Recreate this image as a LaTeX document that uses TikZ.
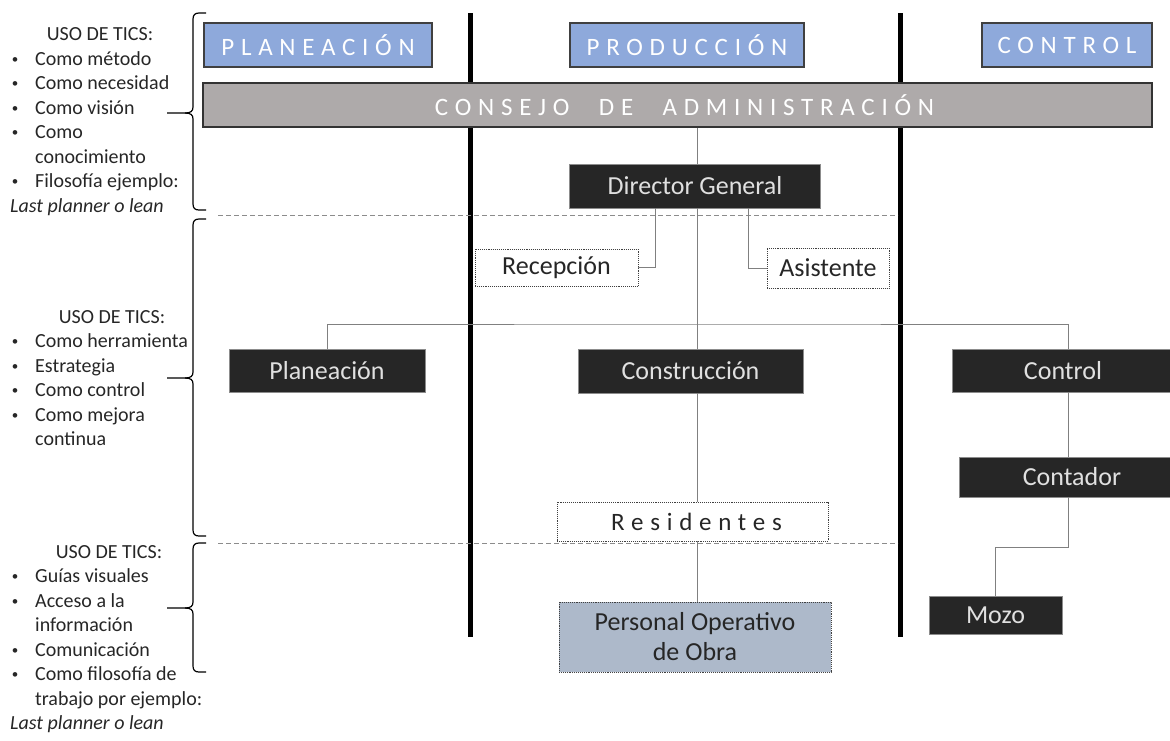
\documentclass[tikz,border=0pt]{standalone}
\usepackage{fontspec}
\setmainfont{Carlito}
\newfontfamily\spaced[LetterSpace=27]{Carlito}
\usetikzlibrary{calc}
\definecolor{hdrblue}{RGB}{142,169,219}
\definecolor{cgray}{RGB}{174,170,170}
\definecolor{dbox}{RGB}{38,38,38}
\definecolor{pbox}{RGB}{173,185,202}
\tikzset{
  hdr/.style={draw=black!75, line width=1.2pt, fill=hdrblue, text=white, font=\spaced\fontsize{25}{29}\selectfont, inner sep=0pt, minimum height=44pt},
  boardbox/.style={draw=black!80, line width=1.2pt, fill=cgray, text=white, font=\spaced\fontsize{25}{29}\selectfont, inner sep=0pt, minimum height=44pt},
  darkbox/.style={draw=black!45, line width=0.6pt, fill=dbox, text=white!88!black, font=\fontsize{26}{31}\selectfont, inner sep=0pt},
  dotbox/.style={draw=black!75, densely dotted, line width=0.9pt, fill=white, text=black!85, font=\fontsize{26}{31}\selectfont, inner sep=0pt},
  conn/.style={draw=black!50, line width=0.8pt},
  sepline/.style={draw=black!45, line width=0.8pt, dash pattern=on 5pt off 3pt},
  lane/.style={draw=black, line width=5pt},
  bracepath/.style={draw=black, line width=1.2pt},
  side/.style={font=\fontsize{20}{24}\selectfont, inner sep=0pt, anchor=base west, text=black!85},
  sidec/.style={font=\fontsize{20}{24}\selectfont, inner sep=0pt, anchor=base, text=black!85},
  bul/.style={font=\fontsize{13}{16}\selectfont, inner sep=0pt, anchor=base, text=black!85},
}
\begin{document}
\begin{tikzpicture}[x=1pt,y=-1pt]
\useasboundingbox (0,0) rectangle (1170,740);
% lanes
\draw[lane] (470,13) -- (470,637);
\draw[lane] (900,13) -- (900,637);
% separators
\draw[sepline] (218,215) -- (898,215);
\draw[sepline] (218,543) -- (898,543);
% headers
\node[hdr, minimum width=228pt] (hplan) at (318,45) {PLANEACIÓN};
\node[hdr, minimum width=234pt] (hprod) at (687,45) {PRODUCCIÓN};
\node[hdr, minimum width=170pt] (hctrl) at (1067,45) {CONTROL};
\node[boardbox, minimum width=949pt] (cons) at (677.5,105) {\hspace*{14pt}CONSEJO\hspace{17pt} DE\hspace{17pt} ADMINISTRACIÓN};
% boxes
\node[darkbox, minimum width=251pt, minimum height=44pt] (dir) at (695,186) {Director General};
\node[dotbox, minimum width=163pt, minimum height=37pt] (recep) at (556.5,267.5) {Recepción};
\node[dotbox, minimum width=122pt, minimum height=40pt] (asist) at (828,268) {Asistente};
\node[darkbox, minimum width=196pt, minimum height=43pt] (plan) at (327,370.5) {Planeación};
\node[darkbox, minimum width=225pt, minimum height=44pt] (constr) at (690.5,371) {Construcción};
\node[darkbox, minimum width=232pt, minimum height=43pt] (ctrl) at (1068,370.5) {\hspace*{-10pt}Control};
\node[darkbox, minimum width=218pt, minimum height=40pt] (cont) at (1068,477) {\hspace*{8pt}Contador};
\node[dotbox, minimum width=271pt, minimum height=39pt, font=\spaced\fontsize{25}{29}\selectfont] (resid) at (692.5,521.5) {\hspace*{8pt}Residentes};
\node[dotbox, fill=pbox, minimum width=272pt, minimum height=70pt, align=center, font=\fontsize{26}{30}\selectfont] (pers) at (695,637) {Personal Operativo\\de Obra};
\node[darkbox, minimum width=133pt, minimum height=38pt] (mozo) at (995.5,615) {Mozo};
% connectors
\coordinate (cx) at (697,0);
\coordinate (rx) at (655,0);
\coordinate (ax) at (748,0);
\coordinate (bus) at (697,324);
\coordinate (melbow) at (1068,547);
\draw[conn] (cons.south -| cx) -- (dir.north -| cx);
\draw[conn] (dir.south -| cx) -- (constr.north -| cx);
\draw[conn] (constr.south -| cx) -- (resid.north -| cx);
\draw[conn] (resid.south -| cx) -- (pers.north -| cx);
\draw[conn] (dir.south -| rx) |- (recep.east);
\draw[conn] (dir.south -| ax) |- (asist.west);
\draw[conn] (plan.north) |- (bus) -| (ctrl.north);
\draw[conn] (ctrl.south) -- (cont.north);
\draw[conn] (cont.south) -- (melbow) -| (mozo.north);
% braces
\draw[bracepath] (206,13) -- (199,13) .. controls (195,13) and (193,15) .. (193,19) -- (193,107) .. controls (193,111) and (191,113) .. (185,113) -- (167,113);
\draw[bracepath] (185,113) .. controls (191,113) and (193,115) .. (193,119) -- (193,204) .. controls (193,208) and (195,210) .. (199,210) -- (206,210);
\draw[bracepath] (206,219) -- (199,219) .. controls (195,219) and (193,221) .. (193,225) -- (193,372) .. controls (193,376) and (191,378) .. (185,378) -- (167,378);
\draw[bracepath] (185,378) .. controls (191,378) and (193,380) .. (193,384) -- (193,530) .. controls (193,534) and (195,536) .. (199,536) -- (206,536);
\draw[bracepath] (206,543) -- (199,543) .. controls (195,543) and (193,545) .. (193,549) -- (193,602) .. controls (193,606) and (191,608) .. (185,608) -- (167,608);
\draw[bracepath] (185,608) .. controls (191,608) and (193,610) .. (193,614) -- (193,666) .. controls (193,670) and (195,672) .. (199,672) -- (206,672);
% side text block 1
\node[sidec] (a0) at (100,40.5) {USO DE TICS:};
\node[bul] (a1b) at (15,63) {•}; \node[side] (a1) at (35,65) {Como método};
\node[bul] (a2b) at (15,87.5) {•}; \node[side] (a2) at (35,89.5) {Como necesidad};
\node[bul] (a3b) at (15,112) {•}; \node[side] (a3) at (35,114) {Como visión};
\node[bul] (a4b) at (15,136.5) {•}; \node[side] (a4) at (35,138.5) {Como};
\node[side] (a5) at (35,163) {conocimiento};
\node[bul] (a6b) at (15,185.5) {•}; \node[side] (a6) at (35,187.5) {Filosofía ejemplo:};
\node[side] (a7) at (10,212) {\itshape Last planner o lean};
% side text block 2
\node[sidec] (b0) at (112,323) {USO DE TICS:};
\node[bul] (b1b) at (15,345.5) {•}; \node[side] (b1) at (35,347.5) {Como herramienta};
\node[bul] (b2b) at (15,370) {•}; \node[side] (b2) at (35,372) {Estrategia};
\node[bul] (b3b) at (15,394.5) {•}; \node[side] (b3) at (35,396.5) {Como control};
\node[bul] (b4b) at (15,419) {•}; \node[side] (b4) at (35,421) {Como mejora};
\node[side] (b5) at (35,445.5) {continua};
% side text block 3
\node[sidec] (c0) at (109,558) {USO DE TICS:};
\node[bul] (c1b) at (15,580.5) {•}; \node[side] (c1) at (35,582.5) {Guías visuales};
\node[bul] (c2b) at (15,605) {•}; \node[side] (c2) at (35,607) {Acceso a la};
\node[side] (c3) at (35,631.5) {información};
\node[bul] (c4b) at (15,654) {•}; \node[side] (c4) at (35,656) {Comunicación};
\node[bul] (c5b) at (15,678.5) {•}; \node[side] (c5) at (35,680.5) {Como filosofía de};
\node[side] (c6) at (35,705) {trabajo por ejemplo:};
\node[side] (c7) at (10,729.5) {\itshape Last planner o lean};
\end{tikzpicture}
\end{document}
